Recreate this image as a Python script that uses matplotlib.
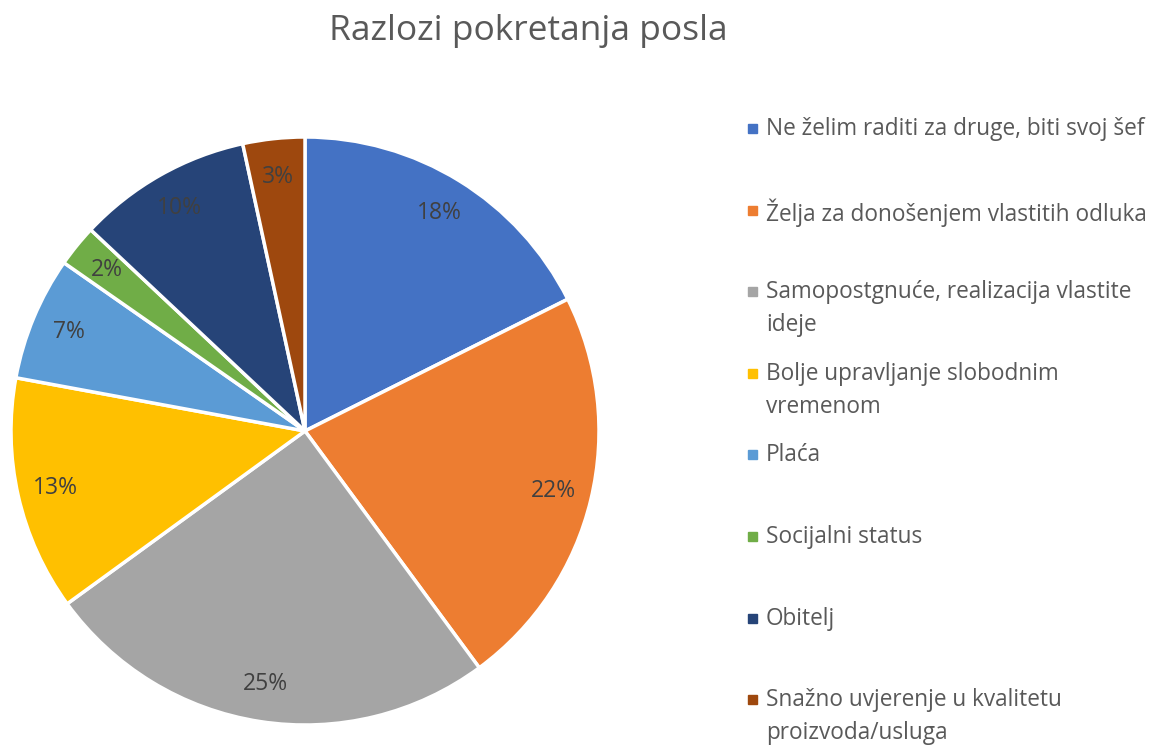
import matplotlib
matplotlib.use('Agg')
import matplotlib.pyplot as plt
from matplotlib.patches import Rectangle

plt.rcParams['font.family'] = ['Open Sans', 'DejaVu Sans']

labels = ['Ne želim raditi za druge, biti svoj šef',
          'Želja za donošenjem vlastitih odluka',
          'Samopostgnuće, realizacija vlastite\nideje',
          'Bolje upravljanje slobodnim\nvremenom',
          'Plaća',
          'Socijalni status',
          'Obitelj',
          'Snažno uvjerenje u kvalitetu\nproizvoda/usluga']
values = [17.6, 22.3, 25.1, 12.9, 6.8, 2.3, 9.6, 3.4]
colors = ['#4472C4', '#ED7D31', '#A5A5A5', '#FFC000',
          '#5B9BD5', '#70AD47', '#264478', '#9E480E']

W, H = 1162, 747
fig = plt.figure(figsize=(W / 100, H / 100), dpi=100)

ax = fig.add_axes([11 / W, 22 / H, 588 / W, 588 / H])
wedges, texts, autotexts = ax.pie(values, colors=colors, startangle=90, counterclock=False,
                                  autopct='%.0f%%', pctdistance=0.87,
                                  wedgeprops=dict(edgecolor='white', linewidth=2.5),
                                  textprops=dict(color='#404040', fontsize=16.5))
ax.set_xlim(-1, 1)
ax.set_ylim(-1, 1)
ax.set_aspect('equal')

fig.text(528 / W, 1 - 31 / H, 'Razlozi pokretanja posla', ha='center', va='center',
         fontsize=25.5, color='#595959')

# legend drawn by hand: constant spacing between entries
for i, (lab, c) in enumerate(zip(labels, colors)):
    y = 128 + i * 81.6
    fig.patches.append(Rectangle((748 / W, 1 - (y + 5) / H), 9 / W, 9 / H,
                                 transform=fig.transFigure, color=c))
    fig.text(766 / W, 1 - (y - 11) / H, lab, ha='left', va='top', fontsize=16.3,
             color='#595959', linespacing=1.5)

fig.savefig('out.png', dpi=100)
